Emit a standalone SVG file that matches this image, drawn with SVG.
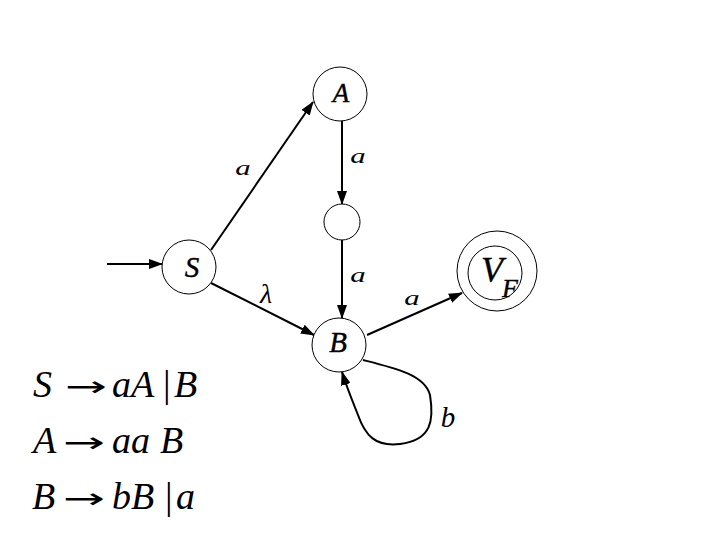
<svg xmlns="http://www.w3.org/2000/svg" width="720" height="540" viewBox="0 0 720 540">
<style>
.node{fill:#fff;stroke:#000;stroke-width:1}
.edge{fill:none;stroke:#000;stroke-width:2}
.nl{font-family:"Liberation Serif",serif;font-style:italic;text-anchor:middle;stroke:#000;stroke-width:0.4}
.el{font-family:"Liberation Serif",serif;font-style:italic;text-anchor:middle}
.g{font-family:"Liberation Serif",serif;font-size:38px;font-style:italic}
.ar{font-family:"DejaVu Sans",sans-serif;font-size:28px}
.bar{font-family:"Liberation Serif",serif;font-size:38px}
</style>
<defs>
<marker id="ah" markerWidth="14" markerHeight="10" refX="13" refY="5" orient="auto" markerUnits="userSpaceOnUse">
<path d="M0,0 L14,5 L0,10 Z" fill="#000"/>
</marker>
</defs>
<rect width="720" height="540" fill="#fff"/>
<g id="connectors">
<line class="edge" x1="107" y1="264" x2="162" y2="264" marker-end="url(#ah)"/>
<line class="edge" x1="211" y1="250" x2="313" y2="102" marker-end="url(#ah)"/>
<line class="edge" x1="342" y1="121" x2="342" y2="204" marker-end="url(#ah)"/>
<line class="edge" x1="342" y1="240" x2="342" y2="318" marker-end="url(#ah)"/>
<line class="edge" x1="211" y1="283" x2="314" y2="335" marker-end="url(#ah)"/>
<line class="edge" x1="367" y1="335" x2="462" y2="293" marker-end="url(#ah)"/>
<path class="edge" d="M363,360 C395,368 425,375 430,395 C434,420 432,440 400,444 C375,447 365,435 358,415 C352,400 346,385 342,372" marker-end="url(#ah)"/>
<text class="el" style="font-size:22px" transform="translate(243,175) scale(1.4,1)">a</text>
<text class="el" style="font-size:22px" transform="translate(358,163) scale(1.4,1)">a</text>
<text class="el" style="font-size:22px" transform="translate(358,282) scale(1.4,1)">a</text>
<text class="el" style="font-size:22px" transform="translate(412,305) scale(1.4,1)">a</text>
<text class="el" style="font-size:28px" x="266" y="303">λ</text>
<text class="el" style="font-size:29px" x="448" y="427">b</text>
</g>
<g id="S"><circle class="node" cx="189" cy="267" r="27"/><text class="nl" style="font-size:29px" x="192" y="277">S</text></g>
<g id="A"><circle class="node" cx="340" cy="94" r="27"/><text class="nl" style="font-size:27px" x="341" y="102">A</text></g>
<g id="M"><circle class="node" cx="342" cy="222" r="18"/></g>
<g id="B"><circle class="node" cx="339" cy="345" r="27"/><text class="nl" style="font-size:29px" x="338" y="352">B</text></g>
<g id="VF"><circle class="node" cx="497" cy="271" r="40"/><circle class="node" cx="495" cy="273" r="27"/><text class="nl" style="font-size:36px" x="492" y="282">V</text><text class="nl" style="font-size:26px" x="510" y="297">F</text></g>
<g id="grammar">
<text class="g" x="33" y="397">S</text>
<text class="ar" x="65" y="396" textLength="42" lengthAdjust="spacingAndGlyphs">→</text>
<text class="g" x="112" y="397">aA</text>
<text class="bar" x="163" y="397">|</text>
<text class="g" x="174" y="397">B</text>
<text class="g" x="33" y="453">A</text>
<text class="ar" x="63" y="452" textLength="42" lengthAdjust="spacingAndGlyphs">→</text>
<text class="g" x="112" y="453">aa</text>
<text class="g" x="160" y="453">B</text>
<text class="g" x="32" y="509">B</text>
<text class="ar" x="63" y="508" textLength="42" lengthAdjust="spacingAndGlyphs">→</text>
<text class="g" x="112" y="509">bB</text>
<text class="bar" x="165" y="509">|</text>
<text class="g" x="176" y="509">a</text>
</g>
</svg>
